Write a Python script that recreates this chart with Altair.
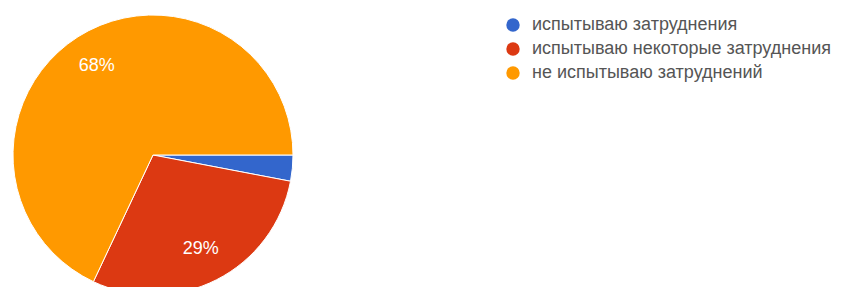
import altair as alt
import pandas as pd

categories = ["испытываю затруднения", "испытываю некоторые затруднения", "не испытываю затруднений"]
values = [3, 29, 68]
labels = ["", "29%", "68%"]
colors = ["#3366CC", "#DC3912", "#FF9900"]

df = pd.DataFrame({"cat": categories, "val": values, "lab": labels, "order": [0, 1, 2]})

PI = 3.141592653589793
theta_scale = alt.Scale(range=[PI / 2, PI / 2 + 2 * PI])
color_scale = alt.Scale(domain=categories, range=colors)

base = alt.Chart(df).encode(
    theta=alt.Theta("val:Q", stack=True, scale=theta_scale),
    order=alt.Order("order:Q"),
)

pie = base.mark_arc(radius=140, stroke="white", strokeWidth=1).encode(
    x=alt.value(145),
    y=alt.value(147),
    color=alt.Color(
        "cat:N",
        scale=color_scale,
        sort=categories,
        legend=alt.Legend(
            title=None,
            orient="none",
            legendX=496,
            legendY=8,
            symbolType="circle",
            symbolSize=180,
            symbolStrokeWidth=0,
            labelFontSize=18,
            labelFont="Liberation Sans",
            labelColor="#555555",
            labelOffset=10,
            rowPadding=6,
            labelLimit=500,
        ),
    ),
)

text = base.mark_text(radius=105, fontSize=18, font="Liberation Sans", color="white").encode(
    x=alt.value(145),
    y=alt.value(147),
    text="lab:N",
)

chart = (
    alt.layer(pie, text)
    .properties(width=828, height=279, padding=0, autosize=alt.AutoSizeParams(type="none"))
    .configure_view(stroke=None)
)

chart.save("out.html", embed_options={"renderer": "svg", "actions": False})
